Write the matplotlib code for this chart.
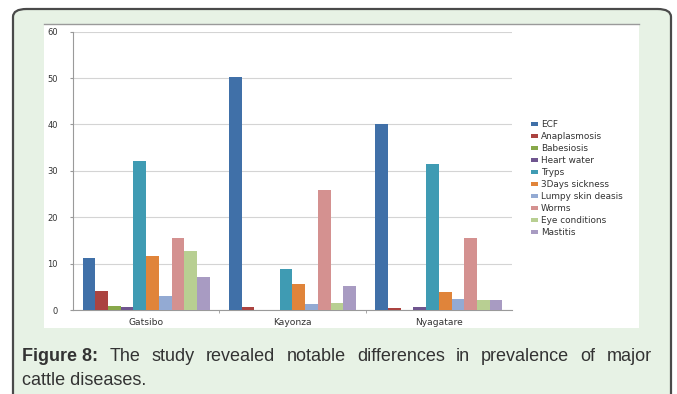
import numpy as np
import matplotlib.pyplot as plt
from matplotlib.patches import FancyBboxPatch, Rectangle

districts = ["Gatsibo", "Kayonza", "Nyagatare"]
diseases = ["ECF", "Anaplasmosis", "Babesiosis", "Heart water", "Tryps",
            "3Days sickness", "Lumpy skin deasis", "Worms", "Eye conditions", "Mastitis"]
ecf = [11.2, 50.3, 40.0]
anaplasmosis = [4.0, 0.6, 0.5]
babesiosis = [0.9, 0.0, 0.0]
heart_water = [0.6, 0.0, 0.7]
tryps = [32.1, 8.9, 31.5]
three_days = [11.7, 5.7, 3.9]
lumpy_skin = [3.0, 1.2, 2.4]
worms = [15.6, 25.8, 15.6]
eye_conditions = [12.7, 1.6, 2.2]
mastitis = [7.1, 5.2, 2.2]
yticks = [0, 10, 20, 30, 40, 50, 60]
caption_bold = "Figure 8:"
caption_line1 = "The study revealed notable differences in prevalence of major"
caption_line2 = "cattle diseases."

series = [ecf, anaplasmosis, babesiosis, heart_water, tryps,
          three_days, lumpy_skin, worms, eye_conditions, mastitis]
colors = ["#4070a8", "#ab4340", "#88a84a", "#6f558f", "#3f9bb3",
          "#e0843a", "#93aad3", "#d49190", "#b8cf92", "#a89bc2"]

W, H = 677, 394
fig = plt.figure(figsize=(W / 100, H / 100), dpi=100)
fig.patch.set_facecolor("white")


def fx(px):
    return px / W


def fy(py):
    return 1 - py / H


# outer rounded frame
frame = FancyBboxPatch((fx(13), fy(420)), fx(658), fy(9) - fy(420),
                       boxstyle="round,pad=0,rounding_size=0.02",
                       transform=fig.transFigure, facecolor="#e7f2e5",
                       edgecolor="#4a4a4a", linewidth=1.6, zorder=0)
fig.patches.append(frame)
panel = Rectangle((fx(44), fy(328)), fx(639 - 44), fy(24) - fy(328),
                  transform=fig.transFigure, facecolor="white",
                  edgecolor="none", zorder=1)
fig.patches.append(panel)
fig.add_artist(plt.Line2D([fx(44), fx(639)], [fy(24), fy(24)],
                          transform=fig.transFigure, color="#9a9a9a", lw=1.0, zorder=2))

ax = fig.add_axes([fx(73), fy(310), fx(512 - 73), fy(31.7) - fy(310)])
ax.set_zorder(3)
ax.patch.set_alpha(0)

n = len(series)
group = 0.87
bw = group / n
x = np.arange(len(districts))
for i, (vals, c, name) in enumerate(zip(series, colors, diseases)):
    ax.bar(x - group / 2 + bw * (i + 0.5), vals, bw, color=c, label=name,
           edgecolor="none", zorder=3)

ax.set_xlim(-0.5, len(districts) - 0.5)
ax.set_ylim(0, 60)
ax.set_yticks(yticks)
ax.set_yticklabels([str(t) for t in yticks], fontsize=6, color="#333333")
ax.set_xticks(x)
ax.set_xticklabels(districts, fontsize=6.6, color="#333333")
ax.set_xticks([0.5, 1.5], minor=True)
ax.tick_params(axis="x", which="major", length=0, pad=6)
ax.tick_params(axis="x", which="minor", length=2, color="#999999")
ax.tick_params(axis="y", length=2, color="#999999", pad=9)
ax.grid(axis="y", color="#d4d4d4", lw=0.8, zorder=0)
for s in ["top", "right"]:
    ax.spines[s].set_visible(False)
ax.spines["left"].set_color("#9a9a9a")
ax.spines["bottom"].set_color("#9a9a9a")
ax.spines["left"].set_linewidth(0.8)
ax.spines["bottom"].set_linewidth(0.8)

leg = ax.legend(loc="upper left", bbox_to_anchor=(1.043, 0.682), frameon=False,
                fontsize=6.4, handlelength=0.75, handleheight=0.3,
                handletextpad=0.35, labelspacing=0.34, borderaxespad=0,
                borderpad=0)
for t in leg.get_texts():
    t.set_color("#333333")

# justified caption
fig.canvas.draw()
r = fig.canvas.get_renderer()
fs = 13
font = "Liberation Sans"
left, right = 22, 652
words = [(caption_bold, "bold")] + [(w, "normal") for w in caption_line1.split()]
arts = []
total = 0
for w, wt in words:
    t = fig.text(0, fy(361), w, fontsize=fs, fontweight=wt, family=font,
                 color="#333333", va="baseline", zorder=5)
    bb = t.get_window_extent(renderer=r)
    arts.append((t, bb.width))
    total += bb.width
gap = (right - left - total) / (len(words) - 1)
pos = left
for t, wdt in arts:
    t.set_x(fx(pos))
    pos += wdt + gap
fig.text(fx(left), fy(385), caption_line2, fontsize=fs, family=font,
         color="#333333", va="baseline", zorder=5)

fig.savefig("out.png", dpi=100)
